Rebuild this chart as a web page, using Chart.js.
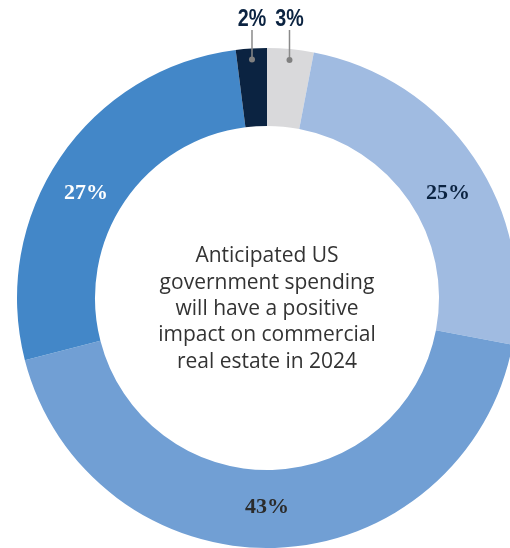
<!DOCTYPE html>
<html>
<head>
<meta charset="utf-8">
<script src="https://cdn.jsdelivr.net/npm/chart.js@4"></script>
<style>
  html, body { margin: 0; padding: 0; background: #fff; overflow: hidden; }
  #wrap { width: 534px; height: 548px; }
</style>
</head>
<body>
<div id="wrap"><canvas id="donut" width="534" height="548"></canvas></div>
<script>
// values, clockwise from the top
var labels = ['Neutral', 'Agree', 'Somewhat agree', 'Somewhat disagree', 'Disagree'];
var shares = [3, 25, 43, 27, 2];
var colors = ['#d9d9db', '#a0bbe1', '#719fd4', '#4387c8', '#0b2341'];
var labelColors = ['#0b2341', '#0b2341', '#2b2b2b', '#ffffff', '#0b2341'];
var outside = [true, false, false, false, true];
var nudge = [0, 4.2, 1.8, -4.2, 0]; // degrees
var centerLines = ['Anticipated US', 'government spending', 'will have a positive',
                   'impact on commercial', 'real estate in 2024'];

var labelPlugin = {
  id: 'sliceLabels',
  afterDatasetsDraw: function (chart) {
    var ctx = chart.ctx;
    var arcs = chart.getDatasetMeta(0).data;
    var top = chart.chartArea.top;
    ctx.save();
    arcs.forEach(function (arc, i) {
      var p = arc.getProps(['x', 'y', 'startAngle', 'endAngle', 'innerRadius', 'outerRadius'], true);
      var mid = (p.startAngle + p.endAngle) / 2 + nudge[i] * Math.PI / 180;
      var txt = shares[i] + '%';
      if (outside[i]) {
        var r = p.outerRadius - 11;
        var dx = p.x + Math.cos(mid) * r;
        var dy = p.y + Math.sin(mid) * r;
        ctx.strokeStyle = '#8a8a8a';
        ctx.lineWidth = 1.5;
        ctx.beginPath();
        ctx.moveTo(dx, dy);
        ctx.lineTo(dx, top - 18);
        ctx.stroke();
        ctx.fillStyle = '#808080';
        ctx.beginPath();
        ctx.arc(dx, dy, 3, 0, Math.PI * 2);
        ctx.fill();
        // narrow bold sans: squeeze Liberation Sans horizontally
        ctx.save();
        ctx.translate(dx, top - 22);
        ctx.scale(0.82, 1);
        ctx.fillStyle = labelColors[i];
        ctx.font = 'bold 24px "Liberation Sans", Arial, sans-serif';
        ctx.textAlign = 'center';
        ctx.textBaseline = 'alphabetic';
        ctx.fillText(txt, 0, 0);
        ctx.restore();
      } else {
        var rm = (p.innerRadius + p.outerRadius) / 2 - 2;
        ctx.fillStyle = labelColors[i];
        ctx.font = 'bold 22px "Liberation Serif", "Times New Roman", serif';
        ctx.textAlign = 'center';
        ctx.textBaseline = 'middle';
        ctx.fillText(txt, p.x + Math.cos(mid) * rm, p.y + Math.sin(mid) * rm);
      }
    });
    // centre caption
    var a0 = arcs[0];
    ctx.fillStyle = '#333333';
    ctx.font = '21px "Open Sans", "Noto Sans", sans-serif';
    ctx.textAlign = 'center';
    ctx.textBaseline = 'alphabetic';
    var lh = 26.3;
    var base = a0.y + 17 - lh * (centerLines.length - 1) / 2;
    centerLines.forEach(function (line, k) {
      ctx.fillText(line, a0.x, base + k * lh);
    });
    ctx.restore();
  }
};

new Chart(document.getElementById('donut'), {
  type: 'doughnut',
  data: {
    labels: labels,
    datasets: [{
      data: shares,
      backgroundColor: colors,
      borderWidth: 0
    }]
  },
  options: {
    responsive: false,
    animation: false,
    cutout: '68.8%',
    layout: { padding: { top: 48, bottom: 0, left: 0, right: 0 } },
    plugins: {
      legend: { display: false },
      tooltip: { enabled: false }
    }
  },
  plugins: [labelPlugin]
});
</script>
</body>
</html>
